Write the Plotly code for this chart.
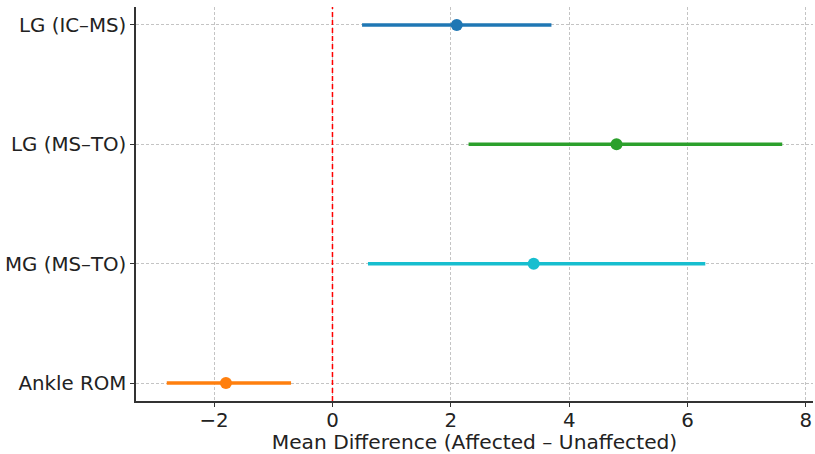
import plotly.graph_objects as go

categories = ["LG (IC–MS)", "LG (MS–TO)", "MG (MS–TO)", "Ankle ROM"]
means = [2.1, 4.8, 3.4, -1.8]
ci_low = [0.5, 2.3, 0.6, -2.8]
ci_high = [3.7, 7.6, 6.3, -0.7]
colors = ["#1f77b4", "#2ca02c", "#17becf", "#ff7f0e"]
x_ticks = [-2, 0, 2, 4, 6, 8]

fig = go.Figure()
for cat, m, lo, hi, c in zip(categories, means, ci_low, ci_high, colors):
    fig.add_trace(go.Scatter(
        x=[m], y=[cat], mode="markers",
        marker=dict(color=c, size=12),
        error_x=dict(type="data", symmetric=False, array=[hi - m], arrayminus=[m - lo],
                     color=c, thickness=3.5, width=0),
        showlegend=False,
    ))

fig.add_shape(type="line", x0=0, x1=0, xref="x", y0=0, y1=1, yref="paper",
              line=dict(color="red", width=1.5, dash="5px,3px"), layer="above")

tickfont = dict(family="DejaVu Sans", size=19.8, color="#222")
fig.update_layout(
    width=815, height=454,
    margin=dict(l=136, r=2, t=7, b=53),
    plot_bgcolor="white", paper_bgcolor="white",
    font=dict(family="DejaVu Sans", size=18, color="#222"),
    xaxis=dict(
        range=[-3.32, 8.12], tickvals=x_ticks, showgrid=True, gridcolor="#c4c4c4",
        griddash="3px,2px", gridwidth=1, zeroline=False, showline=True, linecolor="#333",
        linewidth=1.5, ticks="outside", ticklen=4, tickcolor="#333", tickfont=tickfont,
        ticklabelstandoff=-4,
        title=dict(text="Mean Difference (Affected – Unaffected)", standoff=4,
                   font=dict(family="DejaVu Sans", size=20.2, color="#222")),
    ),
    yaxis=dict(
        type="category", categoryorder="array", categoryarray=list(reversed(categories)),
        range=[-0.15, 3.15], showgrid=True, gridcolor="#c4c4c4", griddash="3px,2px",
        gridwidth=1, zeroline=False, showline=True, linecolor="#333", linewidth=1.5,
        ticks="outside", ticklen=4, tickcolor="#333", tickfont=tickfont,
        ticklabelstandoff=0,
    ),
)
fig.write_html("out.html")
